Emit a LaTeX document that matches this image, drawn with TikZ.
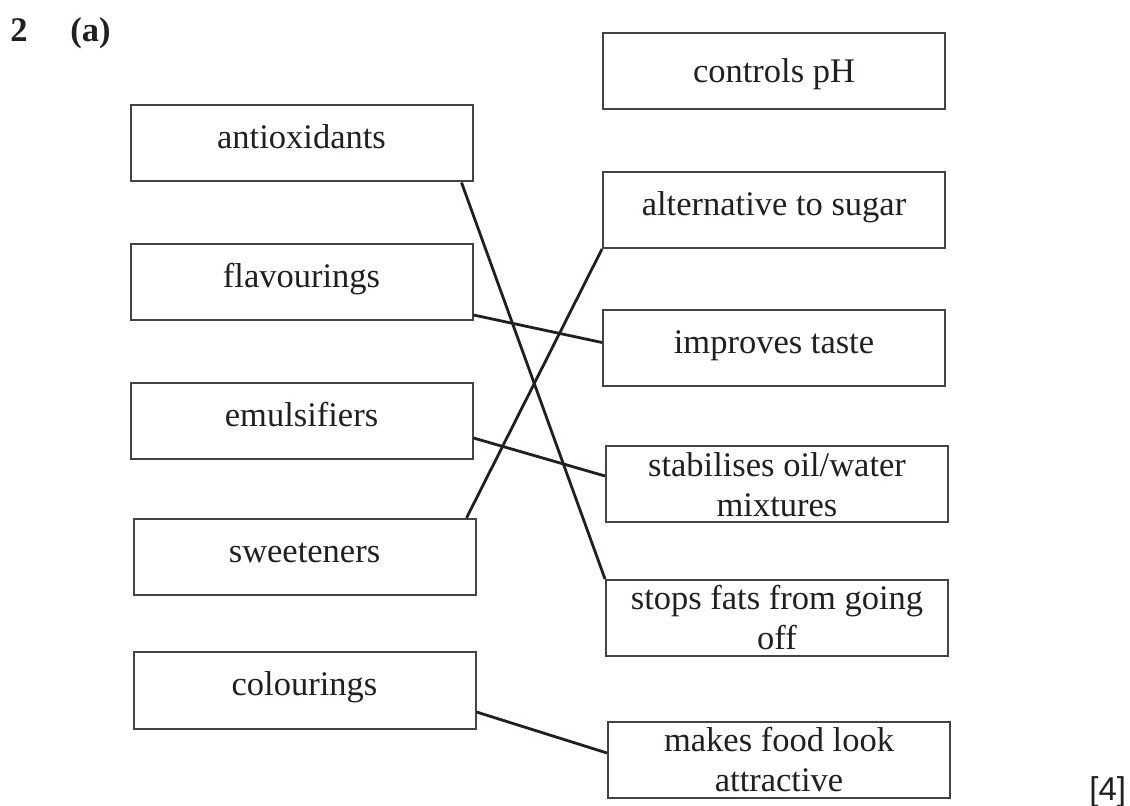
\documentclass[tikz,border=0pt]{standalone}
\usepackage{fontspec}
\setmainfont{Liberation Serif}
\newfontfamily\labelsans{Liberation Sans}
\usepackage{xcolor}
\usetikzlibrary{positioning}
\definecolor{inkdark}{HTML}{231F20}
\definecolor{framegray}{HTML}{444444}

\begin{document}
\begin{tikzpicture}[
  x=0.5pt, y=-0.5pt,
  font=\fontsize{17.25}{20}\selectfont,
  text=inkdark,
  box/.style={draw=framegray, line width=1pt, rectangle, align=center, inner sep=0pt, minimum width=171pt, minimum height=38pt},
  one/.style={box, text height=12pt, text depth=6.5pt},
  tag/.style={anchor=base west, inner sep=0pt},
  link/.style={draw=inkdark, line width=1.4pt}
]
\useasboundingbox (0,0) rectangle (1130,806);

\node[tag, font=\fontsize{17.25}{20}\selectfont\bfseries] (qnum) at (10,42) {2};
\node[tag, font=\fontsize{17.25}{20}\selectfont\bfseries] (qpart) at (70,42) {(a)};
\node[tag, font=\fontsize{16.5}{20}\selectfont\labelsans] (marks) at (1089,800) {[4]};

\node[one] (anti) at (301.5,143.5) {antioxidants};
\node[one] (flav) at (301.5,282) {flavourings};
\node[one] (emul) at (301.5,421) {emulsifiers};
\node[one] (sweet) at (304.5,557) {sweeteners};
\node[one] (colour) at (304.5,690.5) {colourings};

\node[one, text height=15pt, text depth=3pt] (ctrl) at (774,71) {controls pH};
\node[one] (alt) at (774,210) {alternative to sugar};
\node[one] (taste) at (774,348.5) {improves taste};
\node[box] (stab) at (777,484.5) {stabilises oil/water\\mixtures};
\node[box] (stops) at (777,618) {stops fats from going\\off};
\node[box] (looks) at (779,760) {makes food look\\attractive};

\draw[link] ([xshift=-6pt]anti.south east) -- (stops.north west);
\draw[link] ([yshift=3pt]flav.south east) -- ([yshift=3pt]taste.west);
\draw[link] ([yshift=-8.5pt]emul.east) -- ([yshift=4.25pt]stab.west);
\draw[link] ([xshift=-5pt]sweet.north east) -- (alt.south west);
\draw[link] ([yshift=-10.75pt]colour.east) -- ([yshift=3.5pt]looks.west);
\end{tikzpicture}
\end{document}
